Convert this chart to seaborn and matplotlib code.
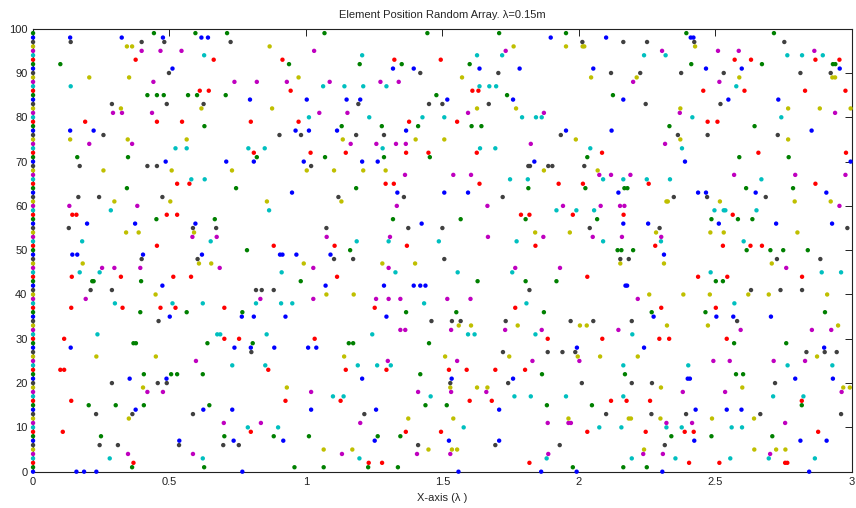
import numpy as np
import pandas as pd
import seaborn as sns
from matplotlib import pyplot as plt

# one row of random element positions per y value (0..99); x in wavelengths
row_y = list(range(100))
row_x = [
    [0.159, 0.187, 0.232, 0.767, 1.559, 1.862, 1.992, 2.306, 2.844],
    [0.363, 0.627, 0.958, 1.065, 1.228, 1.337, 1.978, 2.163, 2.249],
    [0.368, 1.230, 1.279, 1.819, 2.404, 2.515, 2.756, 2.764],
    [0.281, 0.622, 1.196, 1.882, 2.194, 2.354, 2.555, 2.696, 2.865],
    [0.348, 0.586, 1.132, 1.407, 1.529, 1.888, 2.236, 2.308, 2.701],
    [1.065, 1.170, 1.449, 1.535, 1.554, 2.239, 2.643, 2.723, 2.757],
    [0.244, 0.311, 0.535, 0.697, 0.754, 1.411, 1.694, 1.930, 2.315],
    [0.536, 0.735, 0.917, 1.252, 1.524, 1.708, 2.423, 2.812, 2.908],
    [0.249, 0.701, 0.882, 1.011, 1.263, 1.346, 2.339, 2.486, 2.709],
    [0.109, 0.798, 1.366, 1.495, 2.031, 2.245, 2.388, 2.421, 2.877],
    [0.787, 0.898, 1.578, 2.075, 2.156, 2.321, 2.377, 2.560, 2.598],
    [0.699, 0.835, 1.199, 1.886, 1.962, 1.971, 2.321, 2.415, 2.756],
    [0.351, 1.375, 1.540, 1.962, 2.183, 2.191, 2.299, 2.488, 2.642],
    [0.231, 0.364, 0.586, 1.214, 2.100, 2.266, 2.393, 2.665, 2.961],
    [0.376, 0.624, 0.730, 1.019, 1.257, 1.708, 2.428, 2.542, 2.596],
    [0.204, 0.303, 0.406, 0.646, 1.438, 1.516, 1.883, 2.048, 2.817],
    [0.140, 0.925, 1.127, 1.600, 1.681, 2.118, 2.175, 2.261, 2.817],
    [1.099, 1.138, 1.457, 1.764, 1.824, 1.953, 2.163, 2.712, 2.823],
    [0.419, 0.476, 1.019, 1.411, 1.532, 1.661, 2.381, 2.536, 2.963],
    [0.403, 0.930, 1.529, 1.627, 1.665, 2.301, 2.599, 2.969, 2.993],
    [0.289, 0.457, 0.490, 1.529, 1.741, 2.011, 2.194, 2.268, 2.719],
    [0.354, 0.489, 1.206, 1.534, 1.759, 2.399, 2.407, 2.793, 2.931],
    [0.406, 0.506, 0.528, 0.622, 1.419, 1.865, 2.169, 2.576, 2.602],
    [0.100, 0.114, 0.862, 1.146, 1.295, 1.524, 1.589, 1.694, 1.803],
    [0.730, 0.851, 1.190, 1.261, 1.311, 2.163, 2.401, 2.765, 2.929],
    [0.597, 1.300, 1.554, 1.830, 2.002, 2.493, 2.553, 2.714, 2.829],
    [0.232, 0.450, 1.140, 1.510, 1.745, 1.996, 2.078, 2.216, 2.873],
    [0.800, 1.722, 1.886, 1.940, 1.987, 2.834, 2.901, 2.945],
    [0.138, 0.738, 0.798, 0.884, 1.008, 1.038, 1.993, 2.239, 2.899],
    [0.368, 0.377, 0.639, 0.805, 1.157, 1.173, 1.451, 2.569, 2.760],
    [0.114, 0.701, 0.755, 1.032, 1.886, 2.086, 2.295, 2.331, 2.542],
    [0.236, 0.675, 0.686, 0.856, 1.243, 1.594, 1.618, 1.841, 2.196],
    [1.346, 1.364, 1.532, 1.730, 1.864, 2.145, 2.593, 2.854, 2.925],
    [1.560, 1.605, 1.776, 2.004, 2.029, 2.323, 2.473, 2.950],
    [0.460, 1.460, 1.535, 1.567, 1.732, 1.970, 2.053, 2.194, 2.580],
    [0.501, 0.765, 0.809, 0.925, 1.295, 2.274, 2.504, 2.566, 2.704],
    [0.393, 0.563, 0.767, 1.367, 1.551, 1.872, 2.267, 2.464, 2.902],
    [0.140, 0.328, 0.467, 0.522, 0.701, 1.252, 1.767, 2.302, 2.502],
    [0.300, 0.511, 0.622, 0.817, 0.909, 0.950, 1.433, 1.808, 2.570],
    [0.193, 0.833, 1.027, 1.257, 1.303, 1.346, 1.518, 1.603, 2.216],
    [0.449, 1.075, 1.175, 2.258, 2.383, 2.480, 2.621, 2.696, 2.910],
    [0.211, 0.289, 0.817, 0.838, 0.882, 1.819, 2.631, 2.739, 2.818],
    [0.474, 1.072, 1.286, 1.395, 1.419, 1.438, 2.171, 2.177],
    [0.217, 0.222, 0.396, 0.981, 1.629, 1.805, 1.918, 2.502, 2.528],
    [0.142, 0.322, 0.514, 0.579, 1.114, 2.031, 2.437, 2.544, 2.818],
    [0.171, 0.244, 0.911, 1.328, 1.556, 1.756, 2.483, 2.890, 2.961],
    [0.253, 0.298, 0.393, 0.684, 1.027, 1.303, 1.767, 1.931, 2.760],
    [0.182, 0.608, 0.653, 0.992, 1.280, 1.400, 2.152, 2.312, 2.707],
    [0.398, 0.603, 1.103, 1.173, 1.507, 2.152, 2.183, 2.726, 2.885],
    [0.144, 0.162, 0.403, 0.619, 0.905, 0.914, 0.965, 1.090, 2.312],
    [0.784, 1.162, 2.142, 2.156, 2.199, 2.615, 2.702, 2.749, 2.839],
    [0.454, 0.882, 1.105, 1.370, 1.841, 2.280, 2.528, 2.629, 2.671],
    [0.180, 0.651, 1.186, 1.303, 1.487, 1.772, 2.089, 2.301, 2.604],
    [0.584, 0.673, 1.076, 1.308, 1.667, 1.870, 2.051, 2.158, 2.302],
    [0.341, 0.387, 0.590, 1.840, 1.967, 2.283, 2.482, 2.531, 2.801],
    [0.131, 0.586, 0.671, 1.075, 1.375, 1.500, 2.040, 2.296, 2.984],
    [0.198, 0.374, 0.595, 1.424, 2.163, 2.254, 2.513, 2.723, 2.928],
    [0.452, 0.666, 1.319, 1.567, 1.805, 2.067, 2.486, 2.583, 2.636],
    [0.144, 0.159, 0.490, 0.528, 1.788, 1.819, 1.978, 2.164, 2.564],
    [0.285, 0.865, 1.918, 1.991, 2.056, 2.497, 2.531, 2.537, 2.651],
    [0.133, 0.382, 1.333, 1.665, 1.942, 2.080, 2.151, 2.167, 2.955],
    [0.298, 0.503, 0.857, 1.130, 2.321, 2.326, 2.517, 2.791, 2.923],
    [0.166, 0.242, 0.474, 1.119, 1.359, 1.721, 2.348, 2.470, 2.685],
    [0.949, 1.335, 1.507, 1.594, 2.145, 2.437, 2.466, 2.648, 2.907],
    [0.344, 0.744, 1.184, 1.815, 2.024, 2.167, 2.178, 2.613, 2.785],
    [0.528, 0.573, 1.292, 1.322, 1.636, 1.926, 2.015, 2.256, 2.867],
    [0.580, 0.629, 1.748, 1.813, 2.089, 2.163, 2.249, 2.334, 2.669],
    [1.363, 1.540, 1.605, 2.075, 2.118, 2.189, 2.569, 2.793, 2.977],
    [0.258, 0.508, 0.729, 1.003, 1.103, 1.210, 1.292, 1.872, 2.069],
    [0.171, 0.419, 0.454, 1.019, 1.815, 1.821, 1.888, 1.903, 2.020],
    [0.486, 0.708, 0.809, 0.992, 1.206, 1.263, 1.837, 2.389, 2.996],
    [0.162, 0.348, 0.820, 1.070, 1.286, 1.454, 2.031, 2.588, 2.769],
    [0.809, 1.017, 1.146, 1.367, 1.449, 1.626, 2.085, 2.658, 2.979],
    [0.522, 0.563, 0.789, 0.849, 1.281, 1.638, 1.694, 2.042, 2.378],
    [0.206, 0.363, 1.164, 1.258, 1.330, 1.366, 1.824, 2.316],
    [0.136, 0.347, 0.563, 1.135, 1.402, 1.507, 1.989, 2.372, 2.767],
    [0.258, 0.903, 0.982, 1.184, 1.286, 1.934, 2.363, 2.472, 2.729],
    [0.136, 0.222, 0.962, 1.011, 1.114, 1.367, 1.953, 2.120, 2.853],
    [0.628, 1.131, 1.278, 1.411, 1.607, 1.643, 2.332, 2.644],
    [0.191, 0.454, 0.546, 0.798, 0.973, 1.378, 1.554, 2.472, 2.508],
    [1.011, 1.232, 1.427, 1.507, 1.792, 1.843, 1.864, 2.416, 2.742],
    [0.293, 0.326, 0.436, 1.049, 1.152, 1.594, 1.872, 2.370, 2.939],
    [0.322, 0.617, 0.876, 1.627, 1.770, 2.372, 2.767, 2.883, 2.996],
    [0.289, 0.490, 0.625, 1.192, 1.451, 1.500, 1.670, 2.245, 2.519],
    [0.795, 1.003, 1.149, 1.199, 1.518, 1.759, 2.163, 2.548, 2.731],
    [0.419, 0.454, 0.479, 0.568, 0.601, 0.706, 1.478, 1.737, 2.125],
    [0.611, 0.644, 0.944, 1.610, 1.632, 2.456, 2.607, 2.829, 2.977],
    [0.138, 1.063, 1.141, 1.210, 1.295, 1.636, 1.672, 1.697, 2.577],
    [0.441, 0.738, 0.820, 0.930, 1.087, 1.273, 1.340, 2.199, 2.515],
    [0.206, 0.352, 0.973, 1.572, 2.045, 2.212, 2.588, 2.929, 2.939],
    [0.498, 1.419, 1.705, 2.118, 2.225, 2.375, 2.531, 2.812, 2.923],
    [0.511, 1.319, 1.395, 1.636, 1.783, 2.053, 2.466, 2.597, 2.956],
    [0.100, 0.938, 1.197, 1.351, 1.600, 2.412, 2.671, 2.931, 2.940],
    [0.376, 0.662, 0.914, 1.324, 1.494, 2.571, 2.631, 2.867, 2.955],
    [0.627, 1.206, 1.627, 1.719, 2.239, 2.318, 2.764, 2.818, 2.894],
    [0.398, 0.467, 0.544, 1.030, 1.732, 2.305, 2.510, 2.586, 2.863],
    [0.344, 0.363, 0.867, 1.761, 1.953, 2.014, 2.020, 2.426],
    [0.138, 0.398, 0.481, 0.724, 2.013, 2.163, 2.250, 2.423, 2.753],
    [0.136, 0.325, 0.476, 0.617, 0.641, 1.897, 2.100, 2.410, 2.420],
    [0.443, 0.595, 0.711, 1.068, 1.445, 1.708, 1.953, 2.394, 2.715],
]
start_x = 0.0  # every row also has an element at the origin

# old matlab line colour order, cycles row by row
line_colors = ['#0000ff', '#008000', '#ff0000', '#00bfbf', '#bf00bf', '#bfbf00', '#404040']
x_ticks = [0, 0.5, 1, 1.5, 2, 2.5, 3]
x_tick_labels = ['0', '0.5', '1', '1.5', '2', '2.5', '3']
y_ticks = [0, 10, 20, 30, 40, 50, 60, 70, 80, 90, 100]

records = []
for y, xs in zip(row_y, row_x):
    for x in [start_x] + xs:
        records.append((x, y, y % len(line_colors)))
df = pd.DataFrame(records, columns=['x', 'y', 'c'])

sns.set_style('white')
plt.rcParams['font.family'] = ['Liberation Sans', 'DejaVu Sans']

fig = plt.figure(figsize=(8.56, 5.08), dpi=100)
ax = fig.add_axes([0.0386, 0.0715, 0.9564, 0.872])

palette = {i: c for i, c in enumerate(line_colors)}
sns.scatterplot(data=df, x='x', y='y', hue='c', palette=palette, legend=False,
                marker='o', s=10, linewidth=0, ax=ax, clip_on=False, zorder=3)

ax.set_xlim(0, 3)
ax.set_ylim(0, 100)
ax.set_xticks(x_ticks)
ax.set_xticklabels(x_tick_labels)
ax.set_yticks(y_ticks)
ax.tick_params(direction='in', length=5, width=0.7, top=True, right=True,
               labelsize=8, colors='#222222', pad=4)
for s in ax.spines.values():
    s.set_color('#222222')
    s.set_linewidth(0.8)

ax.set_xlabel('X-axis (λ )', fontsize=8, labelpad=4)
ax.set_ylabel('')
ax.set_title('Element Position Random Array. λ=0.15m', fontsize=8, pad=8)

plt.savefig('out.png', dpi=100)
